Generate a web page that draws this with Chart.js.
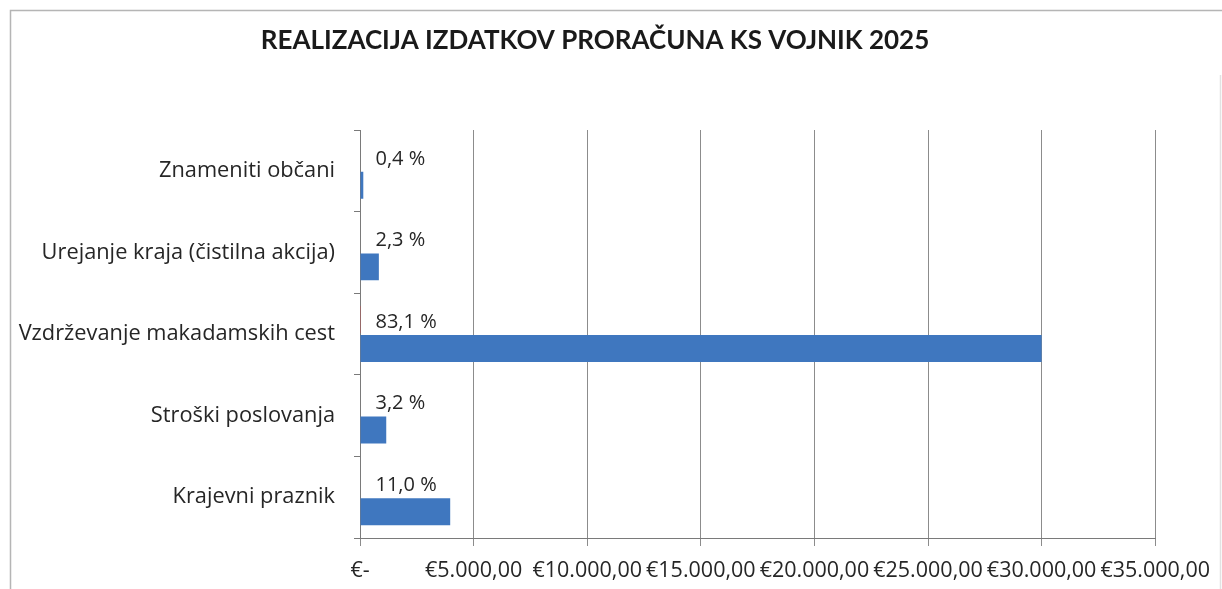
<!DOCTYPE html>
<html lang="sl">
<head>
<meta charset="UTF-8">
<title>Realizacija izdatkov proračuna KS Vojnik 2025</title>
<script src="https://cdn.jsdelivr.net/npm/chart.js"></script>
<style>
  html, body { margin: 0; padding: 0; background: #fff; }
  #wrap { position: relative; width: 1222px; height: 589px; }
</style>
</head>
<body>
<div id="wrap"><canvas id="chart" width="1222" height="589"></canvas></div>
<script>
// categories, top to bottom
const categories = [
    'Znameniti občani',
    'Urejanje kraja (čistilna akcija)',
    'Vzdrževanje makadamskih cest',
    'Stroški poslovanja',
    'Krajevni praznik'
];
// realised spending in EUR
const realised = [145, 830, 30000, 1155, 3970];
// second series, almost empty (only a hairline is visible)
const planned = [0, 0, 40, 0, 0];
// share labels printed above the bars
const shares = [0.4, 2.3, 83.1, 3.2, 11.0];
const xTicks = [0, 5000, 10000, 15000, 20000, 25000, 30000, 35000];

const LABEL_FONT = '"Open Sans", "Noto Sans", sans-serif';
const TITLE_FONT = 'Lato, "Open Sans", sans-serif';
const TEXT = '#262626';

function euro(v) {
    if (v === 0) return '€-';
    return '€' + v.toLocaleString('de-DE', { minimumFractionDigits: 2, maximumFractionDigits: 2 });
}

const extras = {
    id: 'extras',
    beforeDraw(chart) {
        const ctx = chart.ctx;
        ctx.save();
        ctx.strokeStyle = '#b5b5b5';
        ctx.lineWidth = 1.5;
        ctx.beginPath();
        ctx.moveTo(10.5, 589);
        ctx.lineTo(10.5, 10.5);
        ctx.lineTo(1222, 10.5);
        ctx.stroke();
        ctx.strokeStyle = '#e2e2e2';
        ctx.beginPath();
        ctx.moveTo(1220.5, 75);
        ctx.lineTo(1220.5, 589);
        ctx.stroke();
        ctx.fillStyle = '#1a1a1a';
        ctx.font = 'bold 26px ' + TITLE_FONT;
        ctx.textAlign = 'center';
        ctx.textBaseline = 'middle';
        ctx.fillText('REALIZACIJA IZDATKOV PRORAČUNA KS VOJNIK 2025', 595, 41);
        ctx.restore();
    },
    afterDatasetsDraw(chart) {
        const ctx = chart.ctx;
        const meta = chart.getDatasetMeta(1);
        ctx.save();
        ctx.fillStyle = TEXT;
        ctx.font = '20px ' + LABEL_FONT;
        ctx.textAlign = 'left';
        ctx.textBaseline = 'middle';
        meta.data.forEach((bar, i) => {
            const txt = shares[i].toFixed(1).replace('.', ',') + ' %';
            ctx.fillText(txt, bar.base + 15, bar.y - bar.height / 2 - 13);
        });
        ctx.restore();
    }
};

new Chart(document.getElementById('chart'), {
    type: 'bar',
    data: {
        labels: categories,
        datasets: [
            { label: 'Plan', data: planned, backgroundColor: '#c0504d', categoryPercentage: 0.71, barPercentage: 0.93 },
            { label: 'Realizacija', data: realised, backgroundColor: '#3f77bf', categoryPercentage: 0.71, barPercentage: 0.93 }
        ]
    },
    options: {
        indexAxis: 'y',
        responsive: false,
        animation: false,
        layout: { padding: { left: 0, top: 130, right: 63, bottom: 0 } },
        plugins: { legend: { display: false }, tooltip: { enabled: false }, title: { display: false } },
        scales: {
            x: {
                min: 0,
                max: 35000,
                afterBuildTicks(scale) { scale.ticks = xTicks.map(v => ({ value: v })); },
                afterFit(scale) { scale.height = 51; },
                grid: { color: '#8c8c8c', lineWidth: 1, tickLength: 8 },
                border: { color: '#7a7a7a' },
                ticks: {
                    autoSkip: false,
                    maxRotation: 0,
                    padding: 12,
                    color: TEXT,
                    font: { family: LABEL_FONT, size: 21.5 },
                    callback: v => euro(v)
                }
            },
            y: {
                afterFit(scale) { scale.width = 360; },
                grid: { drawOnChartArea: false, drawTicks: true, tickLength: 6, color: '#7a7a7a' },
                border: { color: '#7a7a7a' },
                ticks: {
                    padding: 19,
                    color: TEXT,
                    font: { family: LABEL_FONT, size: 21.8 }
                }
            }
        }
    },
    plugins: [extras]
});
</script>
</body>
</html>
